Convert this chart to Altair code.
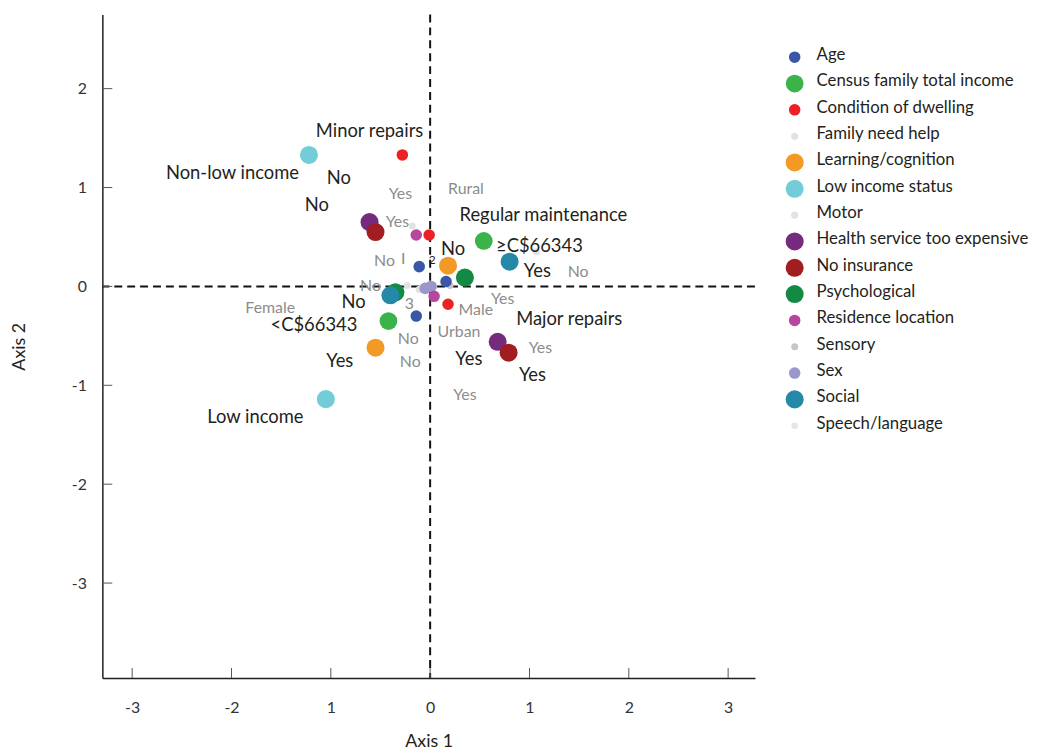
import altair as alt
import pandas as pd

FONT = "Lato"

# legend categories, colours and marker sizes (area)
groups = ["Age", "Census family total income", "Condition of dwelling", "Family need help",
          "Learning/cognition", "Low income status", "Motor", "Health service too expensive",
          "No insurance", "Psychological", "Residence location", "Sensory", "Sex", "Social",
          "Speech/language"]
colors = ["#3a56a6", "#3cb34a", "#ed2024", "#e2e2e2", "#f39a26", "#72cdd8", "#e2e2e2",
          "#762a7e", "#a11d21", "#138a43", "#b7479e", "#c6c6c6", "#9a97cb", "#2489a7", "#e6e6e6"]
sizes = [135, 320, 135, 50, 330, 330, 50, 330, 330, 330, 135, 50, 135, 330, 42]

# category points (Axis 1, Axis 2)
pt_group = ["Family need help", "Family need help", "Motor", "Motor", "Sensory",
            "Sex", "Sex",
            "Age", "Age", "Age",
            "Residence location", "Residence location",
            "Condition of dwelling", "Condition of dwelling", "Condition of dwelling",
            "Census family total income", "Census family total income",
            "Learning/cognition", "Learning/cognition",
            "Low income status", "Low income status",
            "Health service too expensive", "Health service too expensive",
            "No insurance", "No insurance",
            "Psychological", "Psychological",
            "Social", "Social"]
pt_x = [-0.18, -0.23, 1.07, -0.11, 0.20,
        -0.05, 0.01,
        -0.11, 0.16, -0.14,
        -0.14, 0.04,
        -0.28, -0.01, 0.18,
        0.54, -0.42,
        0.18, -0.55,
        -1.22, -1.05,
        -0.61, 0.68,
        -0.55, 0.79,
        0.35, -0.35,
        0.80, -0.40]
pt_y = [0.61, 0.01, 0.35, -0.03, 0.01,
        -0.02, 0.00,
        0.20, 0.05, -0.30,
        0.52, -0.10,
        1.33, 0.52, -0.18,
        0.46, -0.35,
        0.21, -0.62,
        1.33, -1.14,
        0.65, -0.56,
        0.55, -0.67,
        0.09, -0.06,
        0.25, -0.09]

# black labels
lab_text = ["Minor repairs", "Non-low income", "No", "No", "Regular maintenance", "No",
            "≥C$66343", "Yes", "No", "<C$66343", "Major repairs", "Yes", "Yes", "Yes",
            "Low income"]
lab_x = [-0.61, -1.99, -0.92, -1.14, 1.14, 0.23, 1.10, 1.08, -0.77, -1.17, 1.40, -0.91,
         0.39, 1.03, -1.76]
lab_y = [1.57, 1.15, 1.10, 0.82, 0.72, 0.38, 0.41, 0.16, -0.16, -0.39, -0.33, -0.75,
         -0.73, -0.90, -1.32]

# small black label
small_text = ["2"]
small_x = [0.02]
small_y = [0.27]

# grey labels
glab_text = ["Yes", "Rural", "Yes", "No", "I", "No", "Female", "Male", "Yes", "No", "3",
             "No", "Urban", "No", "Yes", "Yes"]
glab_x = [-0.30, 0.36, -0.33, -0.46, -0.27, -0.60, -1.61, 0.46, 0.73, 1.49, -0.21,
          -0.22, 0.29, -0.20, 1.11, 0.35]
glab_y = [0.93, 0.98, 0.65, 0.26, 0.28, 0.00, -0.22, -0.24, -0.13, 0.15, -0.18,
          -0.53, -0.46, -0.76, -0.62, -1.10]

x_ticks = [-3, -2, -1, 0, 1, 2, 3]
y_ticks = [-3, -2, -1, 0, 1, 2]

W, H = 657, 668
XDOM = [-3.3, 3.27]
YDOM = [-3.96, 2.75]

xs = alt.Scale(domain=XDOM, nice=False, zero=False)
ys = alt.Scale(domain=YDOM, nice=False, zero=False)
cs = alt.Scale(domain=groups, range=colors)

size_of = dict(zip(groups, sizes))
pts = pd.DataFrame({"x": pt_x, "y": pt_y, "group": pt_group})
pts["sz"] = pts["group"].map(size_of)
labs = pd.DataFrame({"x": lab_x, "y": lab_y, "t": lab_text})
smalls = pd.DataFrame({"x": small_x, "y": small_y, "t": small_text})
glabs = pd.DataFrame({"x": glab_x, "y": glab_y, "t": glab_text})
xt = pd.DataFrame({"v": x_ticks})
yt = pd.DataFrame({"v": y_ticks})
leg = pd.DataFrame({"group": groups, "sz": sizes})

x_axis = alt.Axis(values=x_ticks, ticks=False, grid=False, domainColor="#231f20",
                  domainWidth=1.5, labelFont=FONT, labelFontSize=16, labelColor="#333333",
                  labelPadding=22, title="Axis 1", titleFont=FONT, titleFontSize=18,
                  titleFontWeight="normal", titleColor="#231f20", titlePadding=17,
                  labelExpr="datum.value == -1 ? '1' : toString(datum.value)")
y_axis = alt.Axis(values=y_ticks, ticks=False, grid=False, domainColor="#231f20",
                  domainWidth=1.5, labelFont=FONT, labelFontSize=16, labelColor="#333333",
                  labelPadding=16, title="Axis 2", titleFont=FONT, titleFontSize=18,
                  titleFontWeight="normal", titleColor="#231f20", titlePadding=43,
                  labelExpr="toString(datum.value)")


def yq(field):
    return alt.Y(field, scale=ys, axis=None)


hline = alt.Chart(pd.DataFrame({"v": [0]})).mark_rule(
    color="#111111", strokeWidth=2, strokeDash=[8, 5]
).encode(y=alt.Y("v:Q", scale=ys, axis=y_axis))
vline = alt.Chart(pd.DataFrame({"v": [0]})).mark_rule(
    color="#111111", strokeWidth=2, strokeDash=[8, 5]
).encode(x=alt.X("v:Q", scale=xs, axis=x_axis))

xticks = alt.Chart(xt).mark_rule(color="#555555", strokeWidth=1).encode(
    x=alt.X("v:Q", scale=xs), y=alt.value(H), y2=alt.value(H - 10))
yticks = alt.Chart(yt).mark_rule(color="#555555", strokeWidth=1).encode(
    y=yq("v:Q"), x=alt.value(0), x2=alt.value(10))

points = alt.Chart(pts).mark_circle(opacity=1).encode(
    x=alt.X("x:Q", scale=xs),
    y=yq("y:Q"),
    color=alt.Color("group:N", scale=cs, legend=None),
    size=alt.Size("sz:Q", scale=None, legend=None),
)

black_text = alt.Chart(labs).mark_text(font=FONT, fontSize=18.5, color="#231f20").encode(
    x=alt.X("x:Q", scale=xs), y=yq("y:Q"), text="t:N")
small_black = alt.Chart(smalls).mark_text(font=FONT, fontSize=12, color="#231f20").encode(
    x=alt.X("x:Q", scale=xs), y=yq("y:Q"), text="t:N")
grey_text = alt.Chart(glabs).mark_text(font=FONT, fontSize=16, color="#8c8c8c").encode(
    x=alt.X("x:Q", scale=xs), y=yq("y:Q"), text="t:N")

# legend drawn as marks on its own point scale
leg_scale = alt.Scale(type="point", domain=groups, range=[43, 414], padding=0)
leg_sym = alt.Chart(leg).mark_circle(opacity=1).encode(
    x=alt.value(W + 40),
    y=alt.Y("group:N", scale=leg_scale, axis=None),
    color=alt.Color("group:N", scale=cs, legend=None),
    size=alt.Size("sz:Q", scale=None, legend=None),
)
leg_txt = alt.Chart(leg).mark_text(font=FONT, fontSize=16.9, color="#231f20",
                                   align="left", baseline="middle", dy=-2).encode(
    x=alt.value(W + 62),
    y=alt.Y("group:N", scale=leg_scale, axis=None),
    text="group:N",
)

chart = alt.layer(
    vline, hline, xticks, yticks, grey_text, points, black_text, small_black,
    leg_sym, leg_txt
).resolve_scale(y="independent").properties(
    width=W, height=H,
    autosize=alt.AutoSizeParams(type="none"),
    padding={"left": 95, "top": 4, "right": 290, "bottom": 76},
).configure_view(stroke=None)

chart.save("out.html", embed_options={"renderer": "svg", "actions": False})
